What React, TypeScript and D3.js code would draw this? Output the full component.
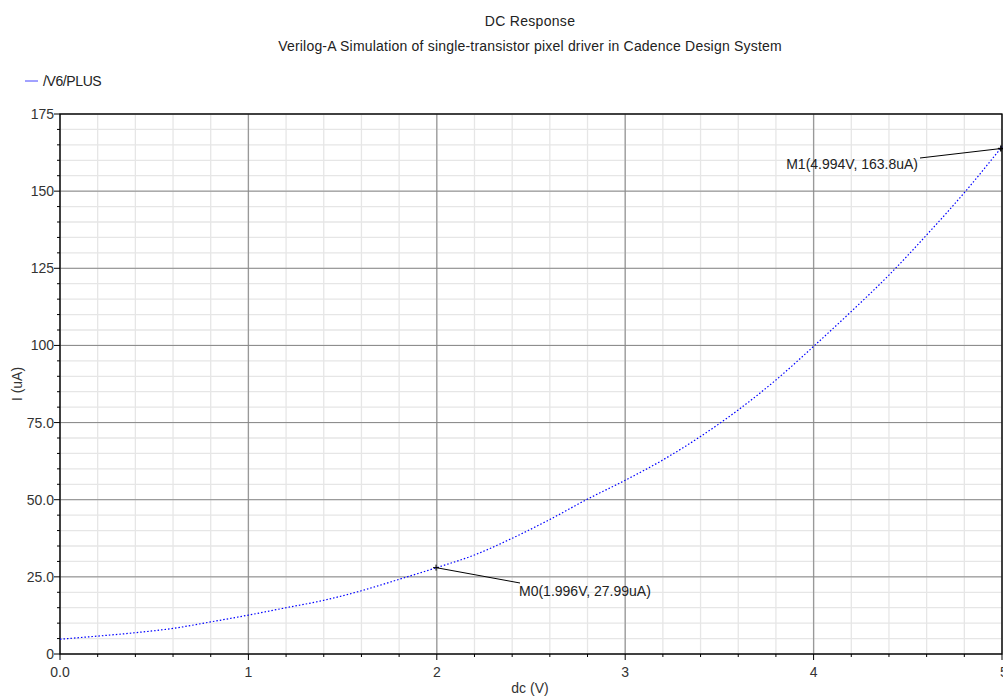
import React from "react";
import * as d3 from "d3";

const voltages = [0, 0.2, 0.4, 0.6, 0.8, 1.0, 1.2, 1.4, 1.6, 1.8, 2.0, 2.2, 2.4, 2.6, 2.8, 3.0, 3.2, 3.4, 3.6, 3.8, 4.0, 4.2, 4.4, 4.6, 4.8, 5.0];
const currents = [4.8, 5.8, 6.9, 8.3, 10.4, 12.6, 15.0, 17.4, 20.5, 24.2, 28.0, 32.1, 37.5, 43.6, 50.2, 56.3, 62.9, 70.5, 79.1, 88.8, 99.7, 111.0, 122.8, 135.8, 149.5, 164.4];
const xTicks = [0, 1, 2, 3, 4, 5];
const xTickLabels = ["0.0", "1", "2", "3", "4", "5"];
const yTicks = [0, 25, 50, 75, 100, 125, 150, 175];
const yTickLabels = ["0", "25.0", "50.0", "75.0", "100", "125", "150", "175"];
const markers = [
  { name: "M0", x: 1.996, y: 27.99, label: "M0(1.996V, 27.99uA)" },
  { name: "M1", x: 4.994, y: 163.8, label: "M1(4.994V, 163.8uA)" },
];
const seriesName = "/V6/PLUS";
const title = "DC Response";
const subtitle = "Verilog-A Simulation of single-transistor pixel driver in Cadence Design System";

const W = 1003, H = 696;
const L = 60, R = 1002, T = 114, B = 654;
const font = "Liberation Sans, Arial, sans-serif";
const FS = 14;

export default function App() {
  const x = d3.scaleLinear().domain([0, 5]).range([L, R]);
  const y = d3.scaleLinear().domain([0, 175]).range([B, T]);
  const xMinor = d3.range(0, 5.0001, 0.2).map((v) => +v.toFixed(2));
  const yMinor = d3.range(0, 175.0001, 5);
  const line = d3
    .line<number>()
    .x((_, i) => x(voltages[i]))
    .y((d) => y(d))
    .curve(d3.curveMonotoneX);
  const m0 = markers[0], m1 = markers[1];
  const m0x = x(m0.x), m0y = y(m0.y);
  const m1x = x(m1.x), m1y = y(m1.y);
  return (
    <svg width={W} height={H} style={{ position: "absolute", left: 0, top: 0, background: "#fff" }} fontFamily={font}>
      <rect x={0} y={0} width={W} height={H} fill="#fff" />
      <text x={530} y={26} textAnchor="middle" fontSize={FS} letterSpacing={0.3} fill="#222">{title}</text>
      <text x={530} y={51} textAnchor="middle" fontSize={FS} letterSpacing={0.2} fill="#222">{subtitle}</text>
      <line x1={25} x2={38} y1={81} y2={81} stroke="#4444ff" strokeWidth={1} />
      <text x={43} y={86} fontSize={FS} fill="#222" letterSpacing={-0.4}>{seriesName}</text>
      {/* minor grid */}
      {xMinor.map((v, i) => (
        <line key={"xm" + i} x1={x(v)} x2={x(v)} y1={T} y2={B} stroke="#e6e6e6" strokeWidth={1.3} />
      ))}
      {yMinor.map((v, i) => (
        <line key={"ym" + i} x1={L} x2={R} y1={y(v)} y2={y(v)} stroke="#e6e6e6" strokeWidth={1.3} />
      ))}
      {/* major grid */}
      {xTicks.map((v, i) => (
        <line key={"xg" + i} x1={x(v)} x2={x(v)} y1={T} y2={B} stroke="#999" strokeWidth={1.3} />
      ))}
      {yTicks.map((v, i) => (
        <line key={"yg" + i} x1={L} x2={R} y1={y(v)} y2={y(v)} stroke="#888" strokeWidth={1} />
      ))}
      {/* frame */}
      <rect x={L} y={T} width={R - L} height={B - T} fill="none" stroke="#000" strokeWidth={1.3} />
      {/* ticks */}
      {xMinor.map((v, i) => (
        <line key={"xt" + i} x1={x(v)} x2={x(v)} y1={B} y2={B + (xTicks.includes(v) ? 6 : 3)} stroke="#000" strokeWidth={1} />
      ))}
      {yMinor.map((v, i) => (
        <line key={"yt" + i} x1={L - (yTicks.includes(v) ? 6 : 3)} x2={L} y1={y(v)} y2={y(v)} stroke="#000" strokeWidth={1} />
      ))}
      {xTicks.map((v, i) => (
        <text key={"xl" + i} x={x(v) + (i === xTicks.length - 1 ? 2 : 0)} y={677} textAnchor="middle" fontSize={FS} fill="#333">{xTickLabels[i]}</text>
      ))}
      {yTicks.map((v, i) => (
        <text key={"yl" + i} x={54} y={y(v) + 5} textAnchor="end" fontSize={FS} fill="#333">{yTickLabels[i]}</text>
      ))}
      <text x={530} y={693} textAnchor="middle" fontSize={FS} fill="#333">dc (V)</text>
      <text transform={`translate(22,384) rotate(-90)`} textAnchor="middle" fontSize={FS} fill="#333">I (uA)</text>
      {/* curve */}
      <path d={line(currents) || ""} fill="none" stroke="#0000ff" strokeWidth={1.2} strokeDasharray="1.5,2" />
      {/* markers */}
      <line x1={m0x} y1={m0y} x2={520} y2={583} stroke="#000" strokeWidth={1} />
      <line x1={m0x - 3} x2={m0x + 3} y1={m0y} y2={m0y} stroke="#000" />
      <line x1={m0x} x2={m0x} y1={m0y - 3} y2={m0y + 3} stroke="#000" />
      <text x={519} y={596} fontSize={FS} fill="#222">{m0.label}</text>
      <line x1={m1x} y1={m1y} x2={920} y2={158} stroke="#000" strokeWidth={1} />
      <line x1={m1x - 3} x2={m1x + 3} y1={m1y} y2={m1y} stroke="#000" strokeWidth={1.5} />
      <line x1={m1x} x2={m1x} y1={m1y - 3} y2={m1y + 3} stroke="#000" strokeWidth={1.5} />
      <text x={918} y={169} textAnchor="end" fontSize={FS} fill="#222">{m1.label}</text>
    </svg>
  );
}
